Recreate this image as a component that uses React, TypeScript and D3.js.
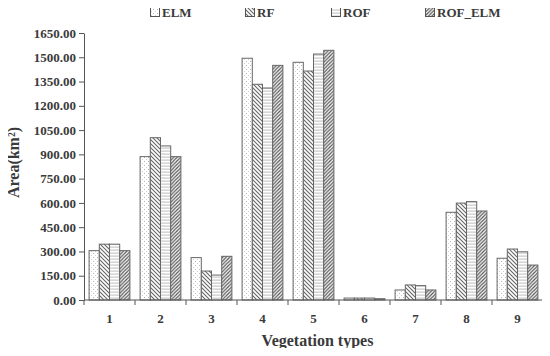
import React, { useEffect, useRef } from "react";
import * as d3 from "d3";

const categories = ["1", "2", "3", "4", "5", "6", "7", "8", "9"];
const seriesNames = ["ELM", "RF", "ROF", "ROF_ELM"];
const elm = [305, 886, 262, 1494, 1469, 12, 62, 542, 258];
const rf = [345, 1003, 179, 1333, 1415, 12, 93, 599, 315];
const rof = [345, 952, 154, 1310, 1520, 12, 89, 608, 298];
const rofElm = [305, 886, 270, 1450, 1543, 8, 62, 550, 216];
const yTicks = [0, 150, 300, 450, 600, 750, 900, 1050, 1200, 1350, 1500, 1650];

const seriesValues = [elm, rf, rof, rofElm];
const fills = ["url(#pElm)", "url(#pRf)", "url(#pRof)", "url(#pRofElm)"];

const W = 550;
const H = 356;
const margin = { top: 33, right: 7, bottom: 56, left: 84 };
const font = "'Liberation Serif', 'Times New Roman', serif";
const textColor = "#3a3a3a";
const lineColor = "#555";

const App = () => {
  const ref = useRef<SVGSVGElement>(null);

  useEffect(() => {
    const svg = d3.select(ref.current);
    svg.selectAll("*").remove();

    // hatch patterns
    const defs = svg.append("defs");
    const dots = defs.append("pattern").attr("id", "pElm")
      .attr("patternUnits", "userSpaceOnUse").attr("width", 4).attr("height", 4);
    dots.append("rect").attr("width", 4).attr("height", 4).attr("fill", "white");
    dots.append("rect").attr("x", 1).attr("y", 1).attr("width", 1).attr("height", 1).attr("fill", "#b5b5b5");
    dots.append("rect").attr("x", 3).attr("y", 3).attr("width", 1).attr("height", 1).attr("fill", "#cfcfcf");

    const back = defs.append("pattern").attr("id", "pRf")
      .attr("patternUnits", "userSpaceOnUse").attr("width", 4).attr("height", 4);
    back.append("rect").attr("width", 4).attr("height", 4).attr("fill", "white");
    back.append("path").attr("d", "M-1,-1 L5,5 M-1,3 L1,5 M3,-1 L5,1")
      .attr("stroke", "#666").attr("stroke-width", 1.1);

    const wave = defs.append("pattern").attr("id", "pRof")
      .attr("patternUnits", "userSpaceOnUse").attr("width", 4).attr("height", 3);
    wave.append("rect").attr("width", 4).attr("height", 3).attr("fill", "white");
    wave.append("path").attr("d", "M0,1.5 L1,0.7 L2,1.5 L3,0.7 L4,1.5")
      .attr("stroke", "#aaa").attr("stroke-width", 0.8).attr("fill", "none");

    const fwd = defs.append("pattern").attr("id", "pRofElm")
      .attr("patternUnits", "userSpaceOnUse").attr("width", 3.5).attr("height", 3.5);
    fwd.append("rect").attr("width", 3.5).attr("height", 3.5).attr("fill", "white");
    fwd.append("path").attr("d", "M-1,4.5 L4.5,-1 M-1,1 L1,-1 M2.5,4.5 L4.5,2.5")
      .attr("stroke", "#555").attr("stroke-width", 1.2);

    const x0 = d3.scaleBand().domain(categories)
      .range([margin.left, W - margin.right]).padding(0);
    const x1 = d3.scaleBand().domain(seriesNames)
      .range([0, x0.bandwidth()]).paddingInner(0).paddingOuter(0.5);
    const y = d3.scaleLinear().domain([0, 1650]).range([H - margin.bottom, margin.top]);

    // bars
    const g = svg.append("g");
    categories.forEach((c, i) => {
      const grp = g.append("g").attr("transform", `translate(${x0(c)},0)`);
      seriesNames.forEach((s, j) => {
        const v = seriesValues[j][i];
        grp.append("rect")
          .attr("x", x1(s)!)
          .attr("y", y(v))
          .attr("width", x1.bandwidth())
          .attr("height", y(0) - y(v))
          .attr("fill", fills[j])
          .attr("stroke", "#666")
          .attr("stroke-width", 1);
      });
    });

    // y axis
    const yAxis = svg.append("g")
      .attr("transform", `translate(${margin.left},0)`)
      .call(d3.axisLeft(y).tickValues(yTicks).tickFormat(d3.format(".2f")).tickSize(5).tickSizeOuter(0).tickPadding(3));
    yAxis.select(".domain").attr("stroke", lineColor);
    yAxis.selectAll(".tick line").attr("stroke", lineColor);
    yAxis.selectAll("text").attr("font-family", font).attr("font-size", 13)
      .attr("font-weight", "bold").attr("fill", textColor);

    // x axis with ticks at band boundaries
    const xg = svg.append("g").attr("transform", `translate(0,${H - margin.bottom})`);
    xg.append("line").attr("x1", margin.left).attr("x2", W - margin.right)
      .attr("stroke", lineColor);
    const bounds = categories.map((c) => x0(c)!).concat([W - margin.right]);
    xg.selectAll("line.tk").data(bounds).join("line").attr("class", "tk")
      .attr("x1", (d) => d).attr("x2", (d) => d).attr("y1", 0).attr("y2", 5)
      .attr("stroke", lineColor);
    xg.selectAll("text").data(categories).join("text")
      .attr("x", (d) => x0(d)! + x0.bandwidth() / 2)
      .attr("y", 23)
      .attr("text-anchor", "middle")
      .attr("font-family", font).attr("font-size", 13).attr("font-weight", "bold")
      .attr("fill", textColor)
      .text((d) => d);

    svg.append("text")
      .attr("x", (margin.left + W - margin.right) / 2 + 4)
      .attr("y", 346)
      .attr("text-anchor", "middle")
      .attr("font-family", font).attr("font-size", 16).attr("font-weight", "bold")
      .attr("fill", textColor)
      .text("Vegetation types");

    svg.append("text")
      .attr("transform", `translate(19,${(margin.top + H - margin.bottom) / 2 - 4}) rotate(-90)`)
      .attr("text-anchor", "middle")
      .attr("font-family", font).attr("font-size", 16).attr("font-weight", "bold")
      .attr("fill", textColor)
      .text("Area(km²)");

    // legend
    const legendX = [150, 245, 331, 425];
    const lg = svg.append("g");
    seriesNames.forEach((s, j) => {
      lg.append("rect").attr("x", legendX[j] + 0.5).attr("y", 7.5)
        .attr("width", 9).attr("height", 9)
        .attr("fill", fills[j]).attr("stroke", "#555").attr("stroke-width", 1);
      lg.append("text").attr("x", legendX[j] + 12).attr("y", 17)
        .attr("font-family", font).attr("font-size", 13).attr("font-weight", "bold")
        .attr("fill", textColor)
        .text(s);
    });
  }, []);

  return (
    <div style={{ margin: -8 }}>
      <svg ref={ref} width={W} height={H} style={{ display: "block" }}></svg>
    </div>
  );
};

export default App;
